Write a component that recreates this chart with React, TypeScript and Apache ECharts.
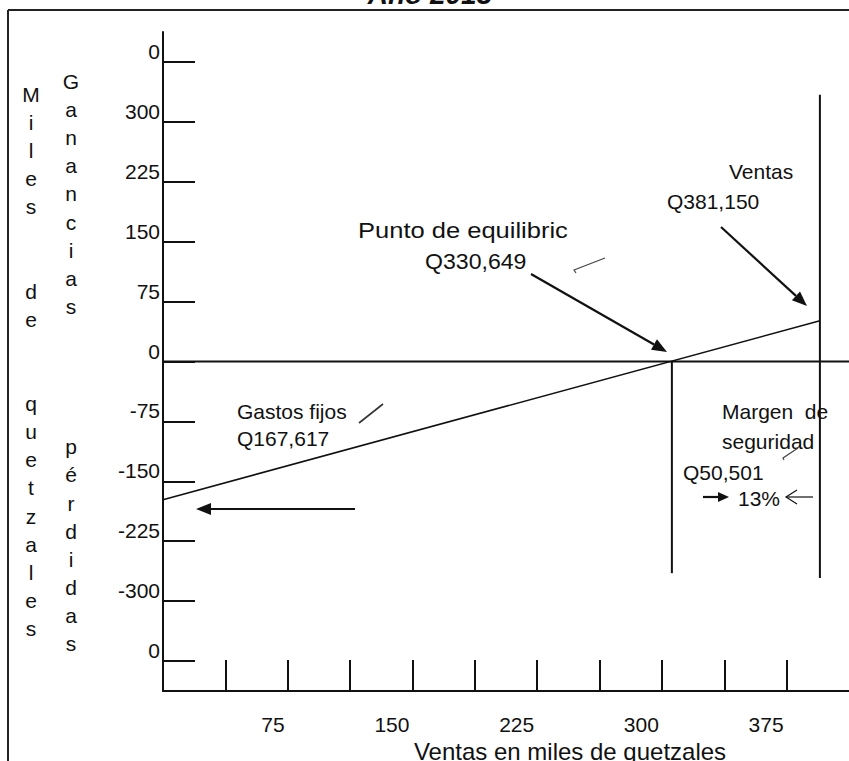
import React, { useEffect, useRef } from "react";
import * as echarts from "echarts";

// ---- Data (thousands of quetzales) ----
const xTickValues = [37.5, 75, 112.5, 150, 187.5, 225, 262.5, 300, 337.5, 375];
const xLabelValues = [75, 150, 225, 300, 375];
const yTickValues = [-375, -300, -225, -150, -75, 0, 75, 150, 225, 300, 375];
const yTickLabels = ["0", "-300", "-225", "-150", "-75", "0", "75", "150", "225", "300", "0"];

const lineaCero = [[0, 0], [412.5, 0]];
const lineaResultado = [[0, -173], [395, 51]];
const lineaEquilibrio = [[306, 0], [306, -265]];
const lineaVentas = [[395, 334], [395, -271]];

const tituloTexto = "Año 2013";
const ejeXTitulo = "Ventas en miles de quetzales";
const columnaIzq = "Miles  de  quetzales";
const columnaDer = "Ganancias    pérdidas";

const FONT = '"Liberation Sans", Arial, Helvetica, sans-serif';
const INK = "#111";

function txt(text: string, x: number, y: number, extra: any = {}, scaleX = 1) {
  return {
    type: "text",
    x,
    y,
    scaleX,
    silent: true,
    style: {
      text,
      fontFamily: FONT,
      fontSize: 21,
      fill: INK,
      align: "left",
      verticalAlign: "middle",
      ...extra,
    },
  };
}

function arrow(x1: number, y1: number, x2: number, y2: number, head = 15, half = 6, lw = 2.2) {
  const dx = x2 - x1;
  const dy = y2 - y1;
  const len = Math.sqrt(dx * dx + dy * dy);
  const ux = dx / len;
  const uy = dy / len;
  const bx = x2 - ux * head;
  const by = y2 - uy * head;
  const px = -uy;
  const py = ux;
  return [
    { type: "line", silent: true, shape: { x1, y1, x2: bx, y2: by }, style: { stroke: INK, lineWidth: lw } },
    {
      type: "polygon",
      silent: true,
      shape: { points: [[x2, y2], [bx + px * half, by + py * half], [bx - px * half, by - py * half]] },
      style: { fill: INK },
    },
  ];
}

function column(text: string, x: number, y0: number, step: number) {
  const out: any[] = [];
  for (let i = 0; i < text.length; i++) {
    const ch = text[i];
    if (ch === " ") continue;
    out.push(txt(ch, x, y0 + i * step, { align: "center" }));
  }
  return out;
}

export default function App() {
  const ref = useRef<HTMLDivElement>(null);
  useEffect(() => {
    if (!ref.current) return;
    const chart = echarts.init(ref.current, null, { renderer: "svg" });
    const graphic: any[] = [
      // frame
      { type: "line", silent: true, shape: { x1: 8, y1: 10, x2: 849, y2: 10 }, style: { stroke: "#222", lineWidth: 2 } },
      { type: "line", silent: true, shape: { x1: 8, y1: 10, x2: 8, y2: 761 }, style: { stroke: "#222", lineWidth: 2 } },
      // title (cut off at top, as in the reference)
      txt(tituloTexto, 430, 8, { align: "center", verticalAlign: "bottom", fontSize: 28, fontWeight: "bold", fontStyle: "italic" }),
      ...column(columnaIzq, 31, 94.5, 28.1),
      ...column(columnaDer, 71, 81.5, 28.1),
      txt("Punto de equilibric", 358, 230, { fontSize: 22 }, 1.16),
      txt("Q330,649", 425, 262, { fontSize: 22 }, 1.05),
      txt("Ventas", 729, 171),
      txt("Q381,150", 667, 201),
      txt("Margen  de", 722, 411),
      txt("seguridad", 722, 441),
      txt("Q50,501", 683, 472),
      txt("13%", 738, 498),
      txt("Gastos fijos", 237, 411),
      txt("Q167,617", 237, 438),
      ...arrow(531, 274, 667, 352),
      ...arrow(721, 227, 807, 306),
      ...arrow(355, 509, 196, 509),
      ...arrow(703, 497, 729, 497, 11, 5),
      { type: "line", silent: true, shape: { x1: 813, y1: 497, x2: 786, y2: 497 }, style: { stroke: INK, lineWidth: 1.2 } },
      { type: "polyline", silent: true, shape: { points: [[797, 490], [786, 497], [797, 504]] }, style: { stroke: INK, lineWidth: 1.2, fill: "none" } },
      // small pen strokes (scan marks)
      { type: "polyline", silent: true, shape: { points: [[576, 273], [574, 270], [605, 258]] }, style: { stroke: "#444", lineWidth: 1.2, fill: "none" } },
      { type: "line", silent: true, shape: { x1: 359, y1: 423, x2: 383, y2: 404 }, style: { stroke: "#333", lineWidth: 1.6 } },
      { type: "polyline", silent: true, shape: { points: [[784, 460], [783, 458], [798, 448]] }, style: { stroke: "#444", lineWidth: 1.2, fill: "none" } },
    ];

    chart.setOption({
      animation: false,
      backgroundColor: "#ffffff",
      grid: { left: 163, right: 0, top: 32, bottom: 70, containLabel: false, outerBoundsMode: "none" },
      xAxis: {
        type: "value",
        min: 0,
        max: 412.5,
        splitLine: { show: false },
        axisLine: { show: true, onZero: false, lineStyle: { color: INK, width: 2 } },
        axisTick: { show: true, inside: true, length: 31, customValues: xTickValues, lineStyle: { color: INK, width: 2 } },
        axisLabel: {
          show: true,
          customValues: xLabelValues,
          formatter: (v: number) => String(v),
          align: "right",
          margin: 23,
          padding: [0, 3, 0, 0],
          fontSize: 21,
          color: INK,
          fontFamily: FONT,
        },
        name: ejeXTitulo,
        nameLocation: "middle",
        nameGap: 45,
        nameTextStyle: { fontSize: 24, color: INK, fontFamily: FONT, padding: [0, 0, 0, 128], verticalAlign: "top" },
      },
      yAxis: {
        type: "value",
        min: -412.5,
        max: 412.5,
        splitLine: { show: false },
        axisLine: { show: true, onZero: false, lineStyle: { color: INK, width: 2 } },
        axisTick: { show: true, inside: true, length: 32, customValues: yTickValues, lineStyle: { color: INK, width: 2 } },
        axisLabel: {
          show: true,
          customValues: yTickValues,
          formatter: (v: number) => {
            const i = yTickValues.indexOf(v);
            return i >= 0 ? yTickLabels[i] : "";
          },
          verticalAlign: "bottom",
          margin: 3,
          fontSize: 21,
          color: INK,
          fontFamily: FONT,
        },
      },
      series: [
        { type: "line", data: lineaCero, symbol: "none", silent: true, lineStyle: { color: INK, width: 2 } },
        { type: "line", data: lineaResultado, symbol: "none", silent: true, lineStyle: { color: INK, width: 1.6 } },
        { type: "line", data: lineaEquilibrio, symbol: "none", silent: true, lineStyle: { color: INK, width: 2 } },
        { type: "line", data: lineaVentas, symbol: "none", silent: true, lineStyle: { color: INK, width: 2 } },
      ],
      graphic,
    });
    return () => chart.dispose();
  }, []);
  return <div ref={ref} style={{ position: "fixed", left: 0, top: 0, width: 849, height: 761, background: "#fff" }} />;
}
